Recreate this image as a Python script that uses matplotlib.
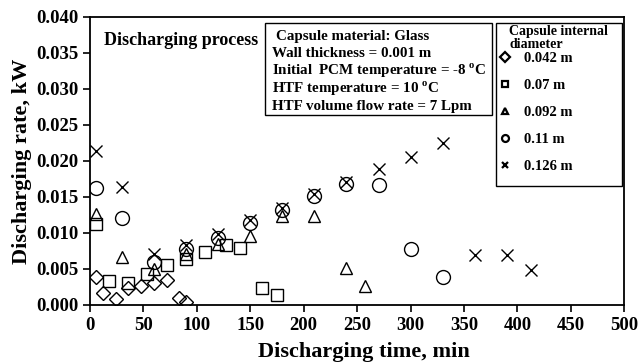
import matplotlib
matplotlib.use("Agg")
import matplotlib.pyplot as plt
from matplotlib.lines import Line2D
from matplotlib.patches import Rectangle

plt.rcParams['font.family'] = ['Liberation Serif', 'DejaVu Serif']
plt.rcParams['font.weight'] = 'bold'
plt.rcParams['mathtext.fontset'] = 'custom'
plt.rcParams['mathtext.rm'] = 'Liberation Serif:bold'
plt.rcParams['mathtext.bf'] = 'Liberation Serif:bold'

# ---- data ----
t_042 = [6, 12, 24, 36, 48, 60, 72, 83, 90]
q_042 = [0.0039, 0.0017, 0.0009, 0.0023, 0.0027, 0.0031, 0.0035, 0.0010, 0.0004]

t_070 = [6, 18, 36, 53, 72, 90, 108, 127, 140, 161, 175]
q_070 = [0.0113, 0.0033, 0.0031, 0.0043, 0.0055, 0.0064, 0.0074, 0.0083, 0.0079, 0.0024, 0.0014]

t_092 = [6, 30, 60, 90, 120, 150, 180, 210, 240, 257]
q_092 = [0.0126, 0.0067, 0.0050, 0.0071, 0.0084, 0.0096, 0.0124, 0.0123, 0.0052, 0.0026]

t_110 = [6, 30, 60, 90, 120, 150, 180, 210, 240, 270, 300, 330]
q_110 = [0.0163, 0.0121, 0.0060, 0.0078, 0.0093, 0.0114, 0.0132, 0.0151, 0.0168, 0.0167, 0.0077, 0.0039]

t_126 = [6, 30, 60, 90, 120, 150, 180, 210, 240, 270, 300, 330, 360, 390, 413]
q_126 = [0.0214, 0.0164, 0.0071, 0.0083, 0.0098, 0.0118, 0.0134, 0.0154, 0.0170, 0.0188, 0.0206, 0.0225, 0.0069, 0.0069, 0.0048]

labels = ['0.042 m', '0.07 m', '0.092 m', '0.11 m', '0.126 m']
markers = ['D', 's', '^', 'o', 'x']
sizes = [7, 9, 9, 10, 9]

x_ticks = [0, 50, 100, 150, 200, 250, 300, 350, 400, 450, 500]
y_ticks = [0.000, 0.005, 0.010, 0.015, 0.020, 0.025, 0.030, 0.035, 0.040]

info_lines = ['Capsule material: Glass',
              'Wall thickness = 0.001 m',
              'Initial  PCM temperature = -8 $^{\\mathrm{o}}$C',
              'HTF temperature = 10 $^{\\mathrm{o}}$C',
              'HTF volume flow rate = 7 Lpm']

fig = plt.figure(figsize=(6.4, 3.63), dpi=100)
ax = fig.add_axes([0.1406, 0.1598, 0.8349, 0.7942])

series = [(t_042, q_042), (t_070, q_070), (t_092, q_092), (t_110, q_110), (t_126, q_126)]
for (t, q), m, s in zip(series, markers, sizes):
    if m == 'x':
        ax.plot(t, q, linestyle='none', marker=m, ms=s, mec='black', mew=1.0)
    else:
        ax.plot(t, q, linestyle='none', marker=m, ms=s, mfc='none', mec='black', mew=1.0)

ax.set_xlim(0, 500)
ax.set_ylim(0, 0.040)
ax.set_xticks(x_ticks)
ax.set_yticks(y_ticks)
ax.set_yticklabels([f'{v:.3f}' for v in y_ticks])
ax.tick_params(axis='both', direction='out', length=5, width=1.2, labelsize=13.5)
for lab in ax.get_xticklabels() + ax.get_yticklabels():
    lab.set_fontweight('bold')
for sp in ax.spines.values():
    sp.set_linewidth(1.3)

ax.set_xlabel('Discharging time, min', fontsize=16, fontweight='bold')
ax.xaxis.set_label_coords(0.513, -0.13)
ax.set_ylabel('Discharging rate, kW', fontsize=16, fontweight='bold', labelpad=3)

ax.text(0.026, 0.916, 'Discharging process', transform=ax.transAxes,
        fontsize=13, fontweight='bold', va='center', ha='left')

# info box
ax.add_patch(Rectangle((0.3275, 0.659), 0.4249, 0.319, transform=ax.transAxes,
                       fill=False, edgecolor='black', lw=1.0))
ys = [0.930, 0.871, 0.812, 0.749, 0.690]
for i, (line, yy) in enumerate(zip(info_lines, ys)):
    xx = 0.348 if i == 0 else 0.340
    ax.text(xx, yy, line, transform=ax.transAxes, fontsize=10.8, fontweight='bold',
            va='center', ha='left')

# legend frame + title
ax.add_patch(Rectangle((0.760, 0.413), 0.236, 0.565, transform=ax.transAxes,
                       fill=False, edgecolor='black', lw=1.0, zorder=5))
ax.text(0.7845, 0.9365, 'Capsule internal', transform=ax.transAxes, fontsize=10,
        fontweight='bold', va='baseline', ha='left')
ax.text(0.7845, 0.893, 'diameter', transform=ax.transAxes, fontsize=10,
        fontweight='bold', va='baseline', ha='left')

handles = [Line2D([], [], linestyle='none', marker=m, ms=5, mfc='none', mec='black', mew=1.6)
           for m in markers]
leg = ax.legend(handles, labels, loc='upper left',
                bbox_to_anchor=(0.766, 0.878), fontsize=10.5,
                labelspacing=0.95, handlelength=0.8, handletextpad=0.9,
                borderpad=0, borderaxespad=0, frameon=False)
for txt in leg.get_texts():
    txt.set_fontweight('bold')

fig.savefig('out.png', dpi=100)
